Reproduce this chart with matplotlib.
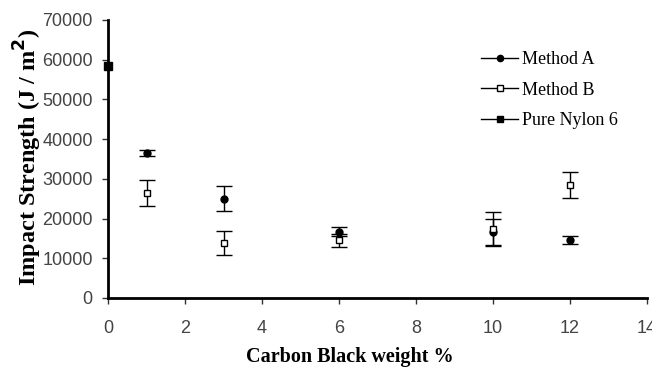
import matplotlib
matplotlib.use("Agg")
import matplotlib.pyplot as plt
from matplotlib.lines import Line2D

# Data
xA = [1, 3, 6, 10, 12]
yA = [36500, 25000, 16700, 16500, 14600]
eA = [700, 3100, 1200, 3500, 900]

xB = [1, 3, 6, 10, 12]
yB = [26500, 13800, 14500, 17500, 28500]
eB = [3300, 3000, 1600, 4200, 3300]

xN = [0]
yN = [58500]
eN = [0]

xticks = [0, 2, 4, 6, 8, 10, 12, 14]
yticks = [0, 10000, 20000, 30000, 40000, 50000, 60000, 70000]

W, H = 652, 372
fig = plt.figure(figsize=(W/100, H/100), dpi=100)
ax = fig.add_axes([108/W, 1 - 298/H, (647-108)/W, (298-20)/H])

cap = 5.5
ax.errorbar(xA, yA, yerr=eA, fmt='o', color='black', ms=5, capsize=cap,
            elinewidth=1, capthick=1, clip_on=False, zorder=3)
ax.errorbar(xB, yB, yerr=eB, fmt='s', color='black', mfc='white', ms=5, capsize=cap,
            elinewidth=1, capthick=1, clip_on=False, zorder=3)
ax.errorbar(xN, yN, yerr=eN, fmt='s', color='black', ms=5.5, capsize=0,
            clip_on=False, zorder=4)

ax.set_xlim(0, 14)
ax.set_ylim(0, 70000)
ax.set_xticks(xticks)
ax.set_yticks(yticks)
ax.spines['top'].set_visible(False)
ax.spines['right'].set_visible(False)
ax.spines['left'].set_linewidth(2)
ax.spines['bottom'].set_linewidth(2)
ax.tick_params(direction='out', length=4, width=1, labelsize=13, colors='#333333',
               labelcolor='#444444')
for lab in ax.get_xticklabels() + ax.get_yticklabels():
    lab.set_family('Liberation Sans')
ax.tick_params(axis='x', pad=12)
ax.tick_params(axis='y', pad=7)

fig.text(350/W, 1 - 357/H, 'Carbon Black weight %', family='Liberation Serif',
         fontweight='bold', fontsize=14.5, ha='center', va='center')
fig.text(28/W, 1 - 157/H, 'Impact Strength (J / m$\\mathbf{^2}$)', family='Liberation Serif',
         fontweight='bold', fontsize=17.5, ha='center', va='center', rotation=90)

handles = [
    Line2D([], [], color='black', marker='o', ms=4.5, lw=1),
    Line2D([], [], color='black', marker='s', mfc='white', ms=4.5, lw=1),
    Line2D([], [], color='black', marker='s', ms=5, lw=1),
]
leg = fig.legend(handles, ['Method A', 'Method B', 'Pure Nylon 6'],
                 loc='upper left', bbox_to_anchor=(481/W, 1 - 51/H), frameon=False,
                 prop={'family': 'Liberation Serif', 'size': 13},
                 handlelength=2.05, handletextpad=0.22, labelspacing=0.75,
                 borderpad=0, borderaxespad=0)

fig.savefig('out.png', dpi=100)
